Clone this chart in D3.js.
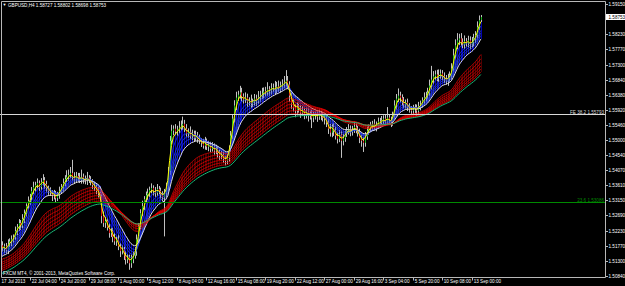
<!DOCTYPE html>
<html>
<meta charset=utf-8>
<title>GBPUSD,H4</title>
<style>
body{margin:0;background:#000;}
svg{display:block;}
text{font-family:"Liberation Sans",Arial,sans-serif;}
</style>
<svg id=chart width=625 height=286></svg>
<script src=https://d3js.org/d3.v7.min.js></script>
<script>
// GBPUSD H4 closes, one per bar
var closes = [
1.5169,1.5175,1.5163,1.5181,1.5190,1.5196,1.5203,1.5221,1.5233,1.5246,
1.5239,1.5258,1.5276,1.5298,1.5313,1.5325,1.5344,1.5356,1.5362,1.5368,
1.5356,1.5371,1.5377,1.5365,1.5353,1.5344,1.5338,1.5328,1.5335,1.5322,
1.5331,1.5344,1.5356,1.5368,1.5380,1.5387,1.5393,1.5399,1.5387,1.5380,
1.5390,1.5384,1.5377,1.5387,1.5380,1.5374,1.5384,1.5377,1.5371,1.5362,
1.5356,1.5344,1.5338,1.5325,1.5267,1.5246,1.5252,1.5233,1.5215,1.5221,
1.5203,1.5190,1.5196,1.5175,1.5160,1.5166,1.5147,1.5135,1.5141,1.5123,
1.5135,1.5147,1.5160,1.5196,1.5236,1.5276,1.5298,1.5319,1.5331,1.5338,
1.5347,1.5353,1.5344,1.5338,1.5350,1.5344,1.5335,1.5325,1.5338,1.5359,
1.5405,1.5497,1.5528,1.5534,1.5525,1.5531,1.5537,1.5543,1.5549,1.5534,
1.5519,1.5525,1.5513,1.5519,1.5506,1.5513,1.5503,1.5497,1.5491,1.5482,
1.5494,1.5479,1.5485,1.5473,1.5479,1.5467,1.5473,1.5460,1.5451,1.5454,
1.5442,1.5436,1.5445,1.5473,1.5513,1.5565,1.5605,1.5629,1.5638,1.5645,
1.5632,1.5623,1.5629,1.5617,1.5620,1.5611,1.5617,1.5626,1.5620,1.5629,
1.5635,1.5641,1.5648,1.5645,1.5654,1.5651,1.5657,1.5660,1.5654,1.5663,
1.5657,1.5666,1.5669,1.5675,1.5681,1.5669,1.5635,1.5611,1.5599,1.5589,
1.5602,1.5595,1.5583,1.5589,1.5577,1.5586,1.5574,1.5580,1.5568,1.5574,
1.5577,1.5571,1.5580,1.5574,1.5568,1.5565,1.5553,1.5534,1.5522,1.5540,
1.5528,1.5513,1.5503,1.5516,1.5497,1.5506,1.5519,1.5528,1.5534,1.5525,
1.5531,1.5540,1.5534,1.5522,1.5506,1.5497,1.5491,1.5510,1.5528,1.5537,
1.5543,1.5549,1.5540,1.5546,1.5556,1.5553,1.5559,1.5565,1.5556,1.5568,
1.5562,1.5553,1.5574,1.5605,1.5626,1.5635,1.5629,1.5617,1.5608,1.5614,
1.5602,1.5595,1.5589,1.5595,1.5599,1.5589,1.5602,1.5608,1.5620,1.5629,
1.5635,1.5645,1.5666,1.5684,1.5694,1.5700,1.5691,1.5697,1.5703,1.5694,
1.5688,1.5681,1.5688,1.5697,1.5718,1.5758,1.5789,1.5804,1.5810,1.5798,
1.5792,1.5801,1.5795,1.5804,1.5792,1.5798,1.5810,1.5820,1.5844,1.5866,
1.58753];
var firstOpen = 1.5178;

// wick beyond the body, in pips
var upWick = [
12,8,10,15,9,12,8,14,10,12, 9,15,11,8,14,10,12,16,10,14, 8,12,18,9,10,7,11,8,12,9,
10,13,9,14,12,20,16,18,40,14, 12,9,15,22,10,11,18,8,12,9, 10,8,12,6,10,14,12,8,11,9,
10,12,8,14,9,11,7,12,10,8, 14,10,12,15,10,12,16,9,11,13, 10,14,8,12,15,9,10,8,12,10,
12,15,18,10,14,12,20,16,22,12, 14,10,16,12,9,15,11,13,8,12, 15,10,12,9,14,10,12,8,10,12,
9,8,12,10,14,12,16,18,12,20, 14,10,16,12,10,18,9,14,12,20, 15,18,12,14,22,10,16,12,20,14,
18,12,16,20,32,14,10,8,12,9, 12,8,10,14,9,12,10,8,11,12, 9,10,12,8,10,9,12,10,14,9,
10,12,9,14,10,12,9,11,14,10, 12,16,10,9,12,8,10,14,12,10, 12,9,14,10,12,11,14,10,12,32,
10,9,12,16,14,22,12,10,14,9, 12,10,8,12,10,9,14,12,10,16, 12,14,18,42,16,12,14,18,12,10,
12,10,14,12,16,20,18,22,14,16, 12,18,10,14,12,16,14,12,18,14, 6];
var dnWick = [
10,14,9,12,8,15,10,9,12,11, 14,9,12,10,8,12,10,9,14,10, 12,9,10,14,11,12,9,15,10,12,
9,11,8,12,10,9,12,10,11,14, 10,12,9,11,14,10,12,9,10,12, 12,10,14,9,22,12,15,10,14,12,
16,11,14,12,18,10,14,16,12,20, 14,12,10,14,12,10,9,12,10,14, 12,10,14,12,9,10,14,12,120,12,
14,12,10,14,9,12,10,8,12,10, 9,12,10,14,11,9,12,10,13,9, 12,10,14,11,9,12,10,14,12,10,
12,14,10,12,9,10,12,14,10,12, 14,12,10,16,12,14,10,12,16,10, 12,10,14,12,10,16,12,10,14,12,
10,12,14,10,12,14,18,16,12,20, 14,12,16,10,14,12,18,12,32,14, 12,16,10,14,12,18,14,16,12,14,
16,12,14,10,52,14,12,10,12,14, 12,10,14,12,16,18,28,12,10,12, 10,12,9,14,10,12,10,14,12,10,
12,14,10,9,12,10,14,12,10,12, 14,12,10,12,14,16,10,12,9,10, 12,9,10,12,14,10,12,14,10,12,
14,12,16,10,12,9,10,12,14,10, 12,14,10,12,14,10,12,14,10,8, 6];

// moving average groups and their values at the first bar
var shortPeriods = [3, 5, 8, 10, 12, 15];
var shortStart = [1.5169, 1.5166, 1.5160, 1.5153, 1.5150, 1.5144];
var longPeriods = [30, 35, 40, 45, 50, 55, 60];
var longStart = [1.5135, 1.5126, 1.5120, 1.5113, 1.5107, 1.5101, 1.5092];

var priceTicks = [1.59150, 1.58230, 1.57770, 1.57300, 1.56840, 1.56380, 1.55920, 1.55460, 1.55000,
    1.54540, 1.54070, 1.53610, 1.53150, 1.52690, 1.52230, 1.51770, 1.51300, 1.50840];
var timeTicks = [15, 31, 47, 63, 79, 95, 111, 127, 143, 159, 175, 191, 207, 223, 239, 255];
var timeLabels = ['22 Jul 04:00', '24 Jul 20:00', '29 Jul 08:00', '1 Aug 00:00', '5 Aug 12:00', '8 Aug 04:00',
    '12 Aug 16:00', '15 Aug 08:00', '19 Aug 20:00', '22 Aug 12:00', '27 Aug 00:00', '29 Aug 16:00',
    '3 Sep 04:00', '5 Sep 20:00', '10 Sep 08:00', '13 Sep 00:00'];
var firstDate = '17 Jul 2013';
var quote = ['GBPUSD,H4', '1.58727', '1.58802', '1.58698', '1.58753'];
var levelNames = ['FE 38.2', '23.6'];
var levelPrices = [1.55793, 1.53086];
var levelColors = ['#d8d8d8', '#008a00'];

var svg = d3.select('#chart');
var W = 625, H = 286, axisX = 605.5, axisY = 277.5;

var x = d3.scaleLinear().domain([0, closes.length - 1]).range([2, 480.8]);
var y = d3.scaleLinear().domain([1.5084, 1.5915]).range([276, 4]);

function ema(period, start) {
    var a = 2 / (period + 1), v = start;
    return closes.map(function (c, i) {
        if (i > 0) v = v + a * (c - v);
        return v;
    });
}
var shortE = shortPeriods.map(function (p, k) { return ema(p, shortStart[k]); });
var longE = longPeriods.map(function (p, k) { return ema(p, longStart[k]); });

var bars = closes.map(function (c, i) {
    var o = i ? closes[i - 1] : firstOpen;
    return {i: i, o: o, c: c,
        h: Math.max(o, c) + upWick[i] * 0.0001,
        l: Math.min(o, c) - dnWick[i] * 0.0001};
});

svg.append('rect').attr('width', W).attr('height', H).attr('fill', '#000');

var plot = svg.append('g');
function px(i) { return Math.round(x(i)) + 0.5; }

// blue histogram between fastest and slowest short average
plot.append('g').selectAll('line').data(bars).join('line')
    .attr('x1', function (d) { return px(d.i); }).attr('x2', function (d) { return px(d.i); })
    .attr('y1', function (d) { return y(shortE[0][d.i]); })
    .attr('y2', function (d) { return y(shortE[5][d.i]); })
    .attr('stroke', '#0000b0').attr('stroke-width', 1);

// dark red histogram across the long group
plot.append('g').selectAll('line').data(bars).join('line')
    .attr('x1', function (d) { return px(d.i); }).attr('x2', function (d) { return px(d.i); })
    .attr('y1', function (d) { return y(longE[0][d.i]); })
    .attr('y2', function (d) { return y(longE[5][d.i]); })
    .attr('stroke', '#4e0000').attr('stroke-width', 1);

// price bars
var gb = plot.append('g');
gb.selectAll('line').data(bars).join('line')
    .attr('x1', function (d) { return px(d.i); }).attr('x2', function (d) { return px(d.i); })
    .attr('y1', function (d) { return y(d.h); }).attr('y2', function (d) { return y(d.l); })
    .attr('stroke', '#c0c0c0').attr('stroke-width', 1);
gb.selectAll('rect').data(bars).join('rect')
    .attr('x', function (d) { return px(d.i) - 0.5; }).attr('width', 1)
    .attr('y', function (d) { return y(Math.max(d.o, d.c)); })
    .attr('height', function (d) { return Math.max(1, y(Math.min(d.o, d.c)) - y(Math.max(d.o, d.c))); })
    .attr('fill', function (d) { return d.c >= d.o ? '#18b818' : '#d81818'; });

var line = d3.line().x(function (v, i) { return x(i); }).y(function (v) { return y(v); });
function drawLine(vals, color, w) {
    plot.append('path').attr('d', line(vals)).attr('fill', 'none')
        .attr('stroke', color).attr('stroke-width', w);
}
for (var k = 1; k < 5; k++) drawLine(shortE[k], '#2f4cf0', 0.7);
drawLine(shortE[5], '#e0e0e0', 1);
for (var k = 0; k < 6; k++) drawLine(longE[k], '#f00000', 0.7);
drawLine(longE[6], '#19b877', 1);
drawLine(shortE[0], '#ffff00', 1);

// fibo levels
levelPrices.forEach(function (p, k) {
    svg.append('line').attr('x1', 0).attr('x2', axisX).attr('y1', Math.round(y(p)) + 0.5).attr('y2', Math.round(y(p)) + 0.5)
        .attr('stroke', levelColors[k]).attr('stroke-width', 1);
    svg.append('text').attr('x', axisX - 1.5).attr('y', Math.round(y(p)) - 0.3)
        .attr('text-anchor', 'end').attr('font-size', 4.6).attr('fill', levelColors[k])
        .text(levelNames[k] + ' ' + p.toFixed(5));
});

// frame and axes
svg.append('path').attr('d', 'M1.5,' + axisY + 'V1.5H' + axisX + 'V' + axisY + 'H1.5')
    .attr('fill', 'none').attr('stroke', '#b8b8b8').attr('stroke-width', 1);

var gy = svg.append('g');
priceTicks.forEach(function (p) {
    var yy = Math.round(y(p)) + 0.5;
    gy.append('line').attr('x1', axisX).attr('x2', axisX + 2.5).attr('y1', yy).attr('y2', yy)
        .attr('stroke', '#b8b8b8');
    gy.append('text').attr('x', axisX + 3).attr('y', yy).attr('dy', '0.35em')
        .attr('font-size', 4.6).attr('fill', '#fff').text(p.toFixed(5));
});

var last = closes[closes.length - 1];
svg.append('rect').attr('x', axisX + 0.5).attr('y', y(last) - 3).attr('width', 19).attr('height', 6)
    .attr('fill', '#fff');
svg.append('text').attr('x', axisX + 3).attr('y', y(last)).attr('dy', '0.35em')
    .attr('font-size', 4.6).attr('fill', '#000').text(quote[4]);

var gx = svg.append('g');
timeTicks.forEach(function (t, k) {
    var xx = px(t);
    gx.append('line').attr('x1', xx).attr('x2', xx).attr('y1', axisY).attr('y2', axisY + 3)
        .attr('stroke', '#b8b8b8');
    gx.append('text').attr('x', xx + 1.2).attr('y', 281.5).attr('dy', '0.35em')
        .attr('font-size', 4.6).attr('fill', '#fff').text(timeLabels[k]);
});
gx.append('text').attr('x', 1.5).attr('y', 281.5).attr('dy', '0.35em')
    .attr('font-size', 4.6).attr('fill', '#fff').text(firstDate);

// header and copyright
svg.append('text').attr('x', 2.5).attr('y', 5).attr('dy', '0.35em')
    .attr('font-size', 4).attr('fill', '#fff').text('\u25BC');
svg.append('text').attr('x', 8).attr('y', 5).attr('dy', '0.35em')
    .attr('font-size', 4.6).attr('fill', '#fff').text(quote.join(' '));
svg.append('text').attr('x', 3).attr('y', 273.5).attr('dy', '0.35em')
    .attr('font-size', 4.6).attr('fill', '#fff').text('FXCM MT4, \u00A9 2001-2013, MetaQuotes Software Corp.');
</script>
